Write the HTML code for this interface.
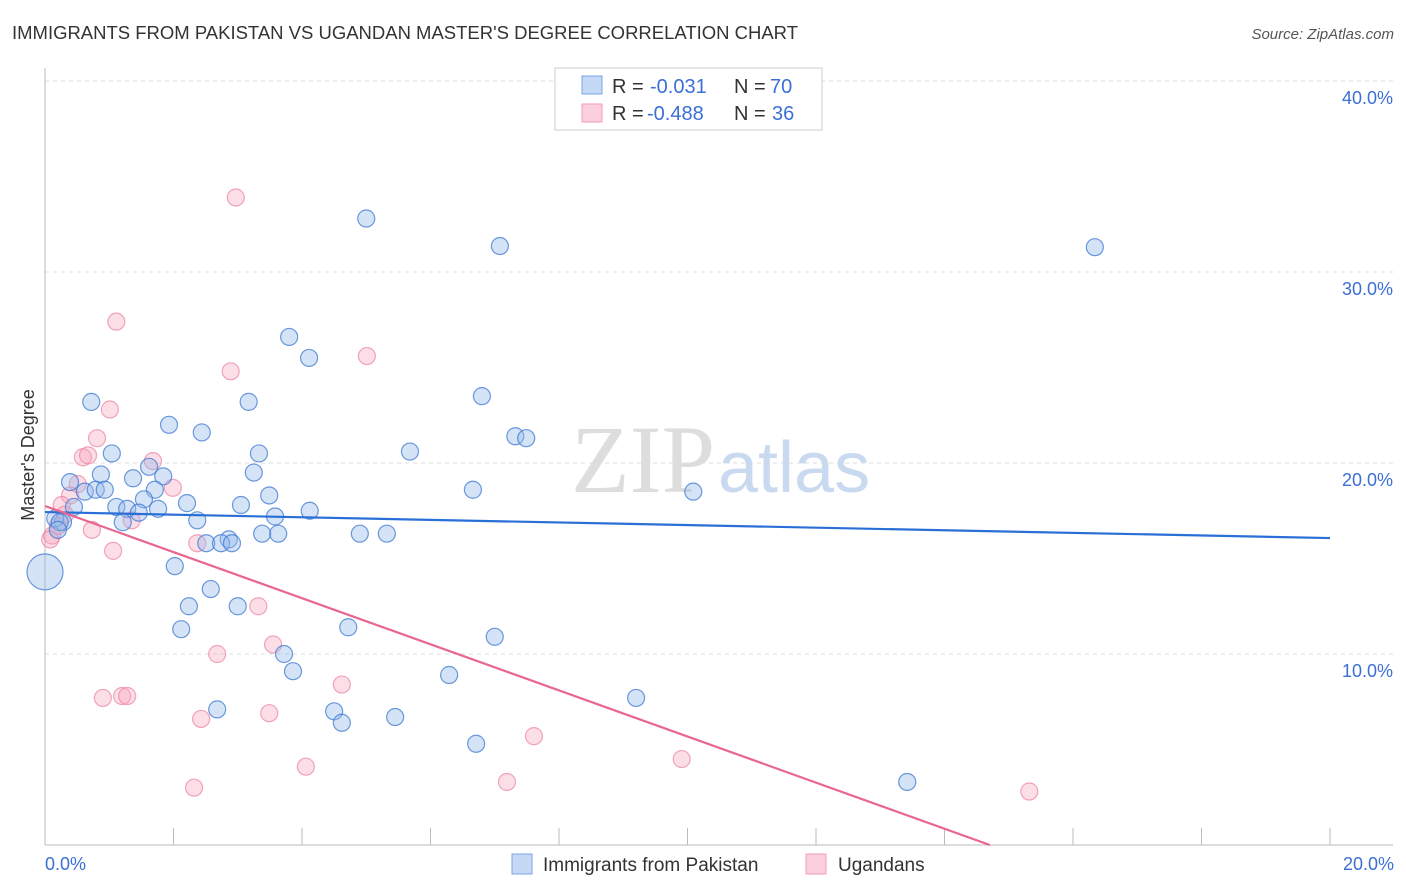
<!DOCTYPE html>
<html><head><meta charset="utf-8"><style>
body{margin:0;background:#fff;font-family:"Liberation Sans",sans-serif;}
svg{display:block}
</style></head><body>
<svg width="1406" height="892">
<text x="12" y="39" font-size="18" fill="#333" textLength="786" lengthAdjust="spacingAndGlyphs">IMMIGRANTS FROM PAKISTAN VS UGANDAN MASTER'S DEGREE CORRELATION CHART</text>
<text x="1394" y="39" font-size="15" fill="#555" text-anchor="end" font-style="italic">Source: ZipAtlas.com</text>
<g id="grid"></g>
<text x="715" y="492" font-size="96" fill="#ddd" text-anchor="end" font-family="Liberation Serif">ZIP</text>
<text x="718" y="492" font-size="72" fill="#c9daf0">atlas</text>
<g id="pts"></g>
<g id="lines"></g>
<text x="34" y="455" font-size="18" fill="#333" text-anchor="middle" transform="rotate(-90 34 455)">Master's Degree</text>
<text x="45" y="870" font-size="18" fill="#3b6fd6">0.0%</text>
<text x="1394" y="870" font-size="18" fill="#3b6fd6" text-anchor="end">20.0%</text>
<g>
<rect x="555" y="68" width="267" height="62" fill="#fff" stroke="#ccc"/>
<rect x="582" y="76" width="20" height="18" fill="#c5d8f5" stroke="#7aa6e6"/>
<rect x="582" y="104" width="20" height="18" fill="#fbd0dc" stroke="#f09ab4"/>
<text y="93" font-size="20" fill="#333"><tspan x="612">R =</tspan><tspan x="650" fill="#3b6fd6">-0.031</tspan><tspan x="734">N =</tspan><tspan x="770" fill="#3b6fd6">70</tspan></text>
<text y="120" font-size="20" fill="#333"><tspan x="612">R =</tspan><tspan x="647" fill="#3b6fd6">-0.488</tspan><tspan x="734">N =</tspan><tspan x="772" fill="#3b6fd6">36</tspan></text>
</g>
<g>
<rect x="512" y="854" width="20" height="20" fill="#c5d8f5" stroke="#7aa6e6"/>
<text x="543" y="871" font-size="19" fill="#333">Immigrants from Pakistan</text>
<rect x="806" y="854" width="20" height="20" fill="#fbd0dc" stroke="#f09ab4"/>
<text x="838" y="871" font-size="19" fill="#333">Ugandans</text>
</g>
</svg>
<script>
const yTicks=[10,20,30,40];
const xTicks=[0,2,4,6,8,10,12,14,16,18,20];
const blueX=[5.0,7.08,16.34,3.8,4.11,6.8,0.72,3.17,1.93,2.44,7.32,7.49,5.68,3.33,1.04,1.62,0.39,0.87,3.25,1.37,1.84,6.66,10.09,0.62,0.79,0.93,1.71,3.49,1.54,2.21,3.05,4.12,1.11,1.28,1.76,0.45,1.46,2.37,3.58,1.21,0.28,0.16,3.38,3.63,4.9,5.32,2.86,2.51,2.74,2.91,2.02,0.0,2.58,2.24,3.0,2.12,4.72,7.0,3.72,3.86,6.29,9.2,2.68,4.5,4.62,5.45,6.71,13.42,0.23,0.2];
const blueY=[32.8,31.36,31.3,26.6,25.5,23.5,23.2,23.2,22.0,21.6,21.4,21.3,20.6,20.5,20.5,19.8,19.0,19.4,19.5,19.2,19.3,18.6,18.5,18.5,18.6,18.6,18.6,18.3,18.1,17.9,17.8,17.5,17.7,17.6,17.6,17.7,17.4,17.0,17.2,16.9,16.9,17.1,16.3,16.3,16.3,16.3,16.0,15.8,15.8,15.8,14.6,14.3,13.4,12.5,12.5,11.3,11.4,10.9,10.0,9.1,8.9,7.7,7.1,7.0,6.4,6.7,5.3,3.3,16.9,16.5];
const pinkX=[2.97,1.11,5.01,2.89,1.01,0.81,0.59,0.67,1.68,1.99,0.51,0.39,0.26,0.31,0.2,0.11,0.08,0.73,1.35,1.06,2.37,3.32,3.55,2.68,0.9,1.2,1.28,4.62,3.49,2.43,7.61,9.91,4.06,2.32,7.19,15.32];
const pinkY=[33.9,27.4,25.6,24.8,22.8,21.3,20.3,20.4,20.1,18.7,18.9,18.3,17.8,17.3,16.7,16.2,16.0,16.5,17.0,15.4,15.8,12.5,10.5,10.0,7.7,7.8,7.8,8.4,6.9,6.6,5.7,4.5,4.1,3.0,3.3,2.8];
const blueSizes=[];blueSizes[51]=18;
const lineBlue=[17.43,16.07];
const linePink=[17.75,-1.207];
const NS='http://www.w3.org/2000/svg';
const X=v=>45+v*64.25, Y=v=>845-v*19.1;
function mk(t,a,p){const e=document.createElementNS(NS,t);for(const k in a)e.setAttribute(k,a[k]);p.appendChild(e);return e;}
const grid=document.getElementById('grid');
yTicks.forEach(t=>{
 const l=mk('line',{x1:45,x2:1393,y1:Y(t),y2:Y(t),stroke:'#ddd','stroke-dasharray':'4,4'},grid);
 
 
 const tx=mk('text',{x:1393,y:Y(t)+23,'font-size':18,fill:'#3b6fd6','text-anchor':'end'},grid);
 tx.textContent=t.toFixed(1)+'%';
 
 
});
const ax=mk('line',{x1:45,x2:1393,y1:845,y2:845,stroke:'#bbb'},grid);


const ay=mk('line',{x1:45,x2:45,y1:68,y2:845,stroke:'#bbb'},grid);


xTicks.forEach(t=>{
 const l=mk('line',{x1:X(t),x2:X(t),y1:828,y2:845,stroke:'#bbb'},grid);
 
 
});
const pts=document.getElementById('pts');
pinkX.forEach((v,i)=>{
 const c=mk('circle',{cx:X(v),cy:Y(pinkY[i]),r:8.5,fill:'rgba(245,160,185,0.35)',stroke:'rgba(235,130,160,0.7)','stroke-width':1.2},pts);
 
 
});
blueX.forEach((v,i)=>{
 const c=mk('circle',{cx:X(v),cy:Y(blueY[i]),r:blueSizes[i]||8.5,fill:'rgba(150,185,235,0.4)',stroke:'rgba(60,120,210,0.75)','stroke-width':1.2},pts);
 
 
});
const lines=document.getElementById('lines');
const lb=mk('line',{x1:X(0),y1:Y(lineBlue[0]),x2:X(20),y2:Y(lineBlue[1]),stroke:'#2a6fd6','stroke-width':2.2},lines);


const xEnd=-linePink[0]/linePink[1];
const lp=mk('line',{x1:X(0),y1:Y(linePink[0]),x2:X(xEnd),y2:Y(0),stroke:'#e8668f','stroke-width':2.2},lines);


</script>
</body></html>
